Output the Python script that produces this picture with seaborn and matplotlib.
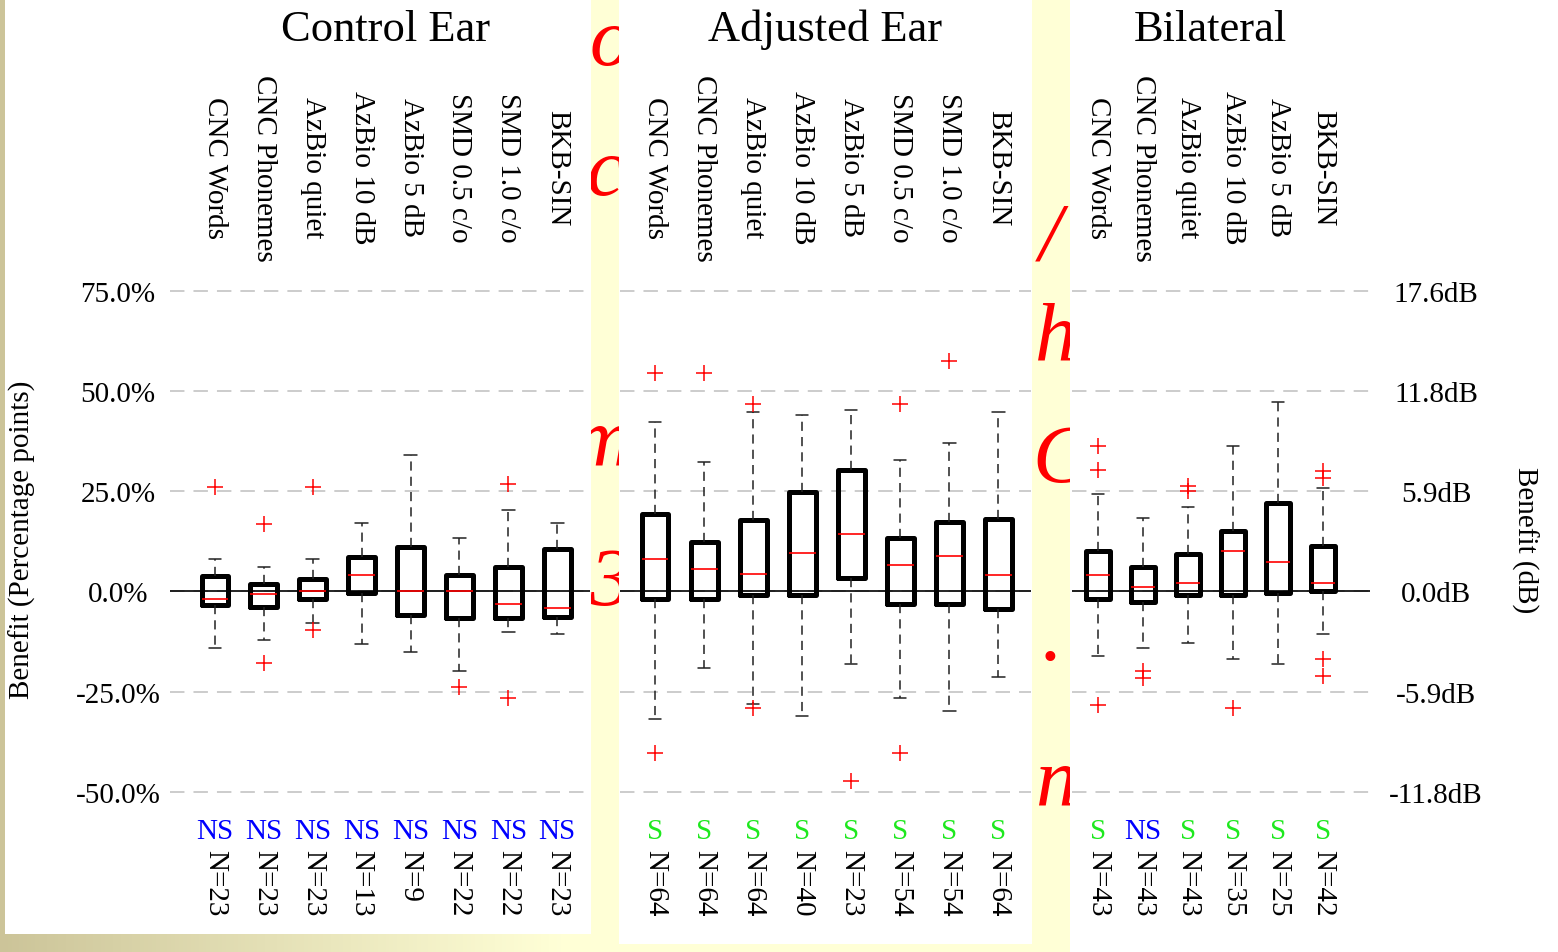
import numpy as np
import matplotlib
matplotlib.use("Agg")
import matplotlib.pyplot as plt
from matplotlib.patches import Rectangle
import seaborn as sns

# ---------------- data ----------------
control_cats = ["CNC Words", "CNC Phonemes", "AzBio quiet", "AzBio 10 dB",
                "AzBio 5 dB", "SMD 0.5 c/o", "SMD 1.0 c/o", "BKB-SIN"]
control_q1 = [-3.3, -3.9, -2.0, -0.3, -5.8, -6.5, -6.5, -6.3]
control_med = [-1.8, -0.7, 0.0, 4.1, 0.0, 0.0, -3.1, -4.2]
control_q3 = [3.9, 1.9, 3.2, 8.6, 11.1, 4.0, 6.2, 10.5]
control_wlo = [-14.0, -12.1, -7.8, -13.0, -15.1, -19.9, -10.0, -10.6]
control_whi = [8.1, 6.0, 8.1, 17.1, 34.0, 13.3, 20.2, 17.1]
control_fliers = [[26.1], [16.8, -17.9], [26.1, -9.7], [], [], [-23.8], [26.9, -26.5], []]
control_n = [23, 23, 23, 13, 9, 22, 22, 23]
control_sig = ["NS", "NS", "NS", "NS", "NS", "NS", "NS", "NS"]

adjusted_cats = ["CNC Words", "CNC Phonemes", "AzBio quiet", "AzBio 10 dB",
                 "AzBio 5 dB", "SMD 0.5 c/o", "SMD 1.0 c/o", "BKB-SIN"]
adjusted_q1 = [-1.8, -1.8, -0.8, -0.9, 3.3, -3.1, -3.1, -4.4]
adjusted_med = [8.2, 5.7, 4.4, 9.6, 14.2, 6.6, 8.8, 4.1]
adjusted_q3 = [19.3, 12.3, 17.8, 24.9, 30.2, 13.3, 17.4, 18.1]
adjusted_wlo = [-31.9, -19.0, -28.0, -31.1, -18.1, -26.6, -29.8, -21.2]
adjusted_whi = [42.2, 32.3, 44.6, 44.0, 45.1, 32.8, 37.0, 44.8]
adjusted_fliers = [[54.4, -40.2], [54.4], [46.6, -29.0], [], [-47.3], [46.8, -40.2], [57.5], []]
adjusted_n = [64, 64, 64, 40, 23, 54, 54, 64]
adjusted_sig = ["S", "S", "S", "S", "S", "S", "S", "S"]

bilateral_cats = ["CNC Words", "CNC Phonemes", "AzBio quiet", "AzBio 10 dB",
                  "AzBio 5 dB", "BKB-SIN"]
bilateral_q1 = [-1.8, -2.7, -0.8, -0.9, -0.3, 0.1]
bilateral_med = [4.2, 1.0, 2.2, 10.0, 7.3, 2.2]
bilateral_q3 = [10.0, 6.1, 9.3, 15.1, 22.0, 11.3]
bilateral_wlo = [-16.0, -14.2, -12.9, -16.8, -18.0, -10.5]
bilateral_whi = [24.2, 18.2, 21.1, 36.3, 47.2, 25.7]
bilateral_fliers = [[36.2, 30.2, -28.2], [-19.7, -21.6], [26.3, 25.1], [-29.0], [],
                    [30.0, 28.3, -16.8, -21.1]]
bilateral_n = [43, 43, 43, 35, 25, 42]
bilateral_sig = ["S", "NS", "S", "S", "S", "S"]

panel_titles = ["Control Ear", "Adjusted Ear", "Bilateral"]
y_ticks = [-50, -25, 0, 25, 50, 75]
pct_labels = ["-50.0%", "-25.0%", "0.0%", "25.0%", "50.0%", "75.0%"]
db_labels = ["-11.8dB", "-5.9dB", "0.0dB", "5.9dB", "11.8dB", "17.6dB"]

# ---------------- style ----------------
sns.set_theme(style="white")
plt.rcParams["font.family"] = ["Liberation Serif", "DejaVu Serif"]
plt.rcParams["text.color"] = "black"
plt.rcParams["xtick.color"] = "black"
plt.rcParams["ytick.color"] = "black"
plt.rcParams["axes.labelcolor"] = "black"

W, H = 1558, 953
fig = plt.figure(figsize=(W / 100, H / 100), dpi=100)
fig.patch.set_facecolor("#FFFFD6")

# background (slide) axes
bg = fig.add_axes([0, 0, 1, 1], zorder=-10)
bg.set_xlim(0, W)
bg.set_ylim(H, 0)
bg.axis("off")
xs = np.linspace(0, W, 400)
t = np.clip(xs / 560.0, 0, 1)[None, :, None]
khaki = np.array([0.80, 0.77, 0.60])
yell = np.array([1.0, 1.0, 0.84])
grad = khaki * (1 - t) + yell * t
grad = np.repeat(grad, 2, axis=0)
bg.imshow(grad, extent=[0, W, H, 0], aspect="auto", zorder=0)
red_bits = [("o", 610, 45), ("c", 605, 175), ("m", 602, 445), ("3", 610, 585),
            ("/", 1050, 240), ("h", 1056, 340), ("C", 1060, 462),
            (".", 1052, 640), ("n", 1056, 785)]
for s, x, y in red_bits:
    bg.text(x, y, s, color="red", fontsize=60, style="italic",
            ha="center", va="center", zorder=1)
for (x0, y0, x1, y1) in [(5, 0, 591, 935), (619, 0, 1032, 945), (1070, 0, W, H)]:
    bg.add_patch(Rectangle((x0, y0), x1 - x0, y1 - y0, facecolor="white",
                           edgecolor="none", zorder=2))

AX_TOP, AX_BOT = 286, 798
PXU = 4.012
ylim = (-50 - (AX_BOT - 793.1) / PXU, 75 + (291.5 - AX_TOP) / PXU)


def px_axes(x0, x1):
    return fig.add_axes([x0 / W, 1 - AX_BOT / H, (x1 - x0) / W, (AX_BOT - AX_TOP) / H])


panels = [
    dict(x0=170, x1=590, xlim=(-0.92, 7.67), cats=control_cats, q1=control_q1,
         med=control_med, q3=control_q3, wlo=control_wlo, whi=control_whi,
         fl=control_fliers, n=control_n, sig=control_sig, tx=0.514),
    dict(x0=620, x1=1031, xlim=(-0.714, 7.67), cats=adjusted_cats, q1=adjusted_q1,
         med=adjusted_med, q3=adjusted_q3, wlo=adjusted_wlo, whi=adjusted_whi,
         fl=adjusted_fliers, n=adjusted_n, sig=adjusted_sig, tx=0.50),
    dict(x0=1072, x1=1370, xlim=(-0.578, 6.044), cats=bilateral_cats, q1=bilateral_q1,
         med=bilateral_med, q3=bilateral_q3, wlo=bilateral_wlo, whi=bilateral_whi,
         fl=bilateral_fliers, n=bilateral_n, sig=bilateral_sig, tx=0.463),
]

FS = 21
axes = []
for k, p in enumerate(panels):
    ax = px_axes(p["x0"], p["x1"])
    ax.set_facecolor("none")
    stats = []
    for i in range(len(p["cats"])):
        stats.append(dict(med=p["med"][i], q1=p["q1"][i], q3=p["q3"][i],
                          whislo=p["wlo"][i], whishi=p["whi"][i],
                          fliers=p["fl"][i], label=p["cats"][i]))
    ax.axhline(0, color="black", lw=1.2, zorder=1)
    ax.bxp(stats, positions=list(range(len(stats))), widths=0.55, showfliers=True,
           capwidths=0.26, manage_ticks=False,
           boxprops=dict(color="black", linewidth=3.6),
           whiskerprops=dict(color="#222222", linewidth=1.1, linestyle=(0, (6, 4))),
           capprops=dict(color="#222222", linewidth=1.1),
           medianprops=dict(color="red", linewidth=1.2),
           flierprops=dict(marker="+", markeredgecolor="red", markersize=11,
                           markeredgewidth=1.1, linestyle="none"))
    ax.set_xlim(*p["xlim"])
    ax.set_ylim(*ylim)
    ax.set_yticks(y_ticks)
    ax.grid(axis="y", color="#C8C8C8", linestyle=(0, (8, 5)), linewidth=1.3, zorder=0)
    ax.set_axisbelow(True)
    for sp in ax.spines.values():
        sp.set_visible(False)
    if k == 0:
        ax.set_yticklabels(pct_labels, ha="center", fontsize=FS)
        ax.tick_params(axis="y", length=0, pad=37.5)
    else:
        ax.tick_params(axis="y", length=0, labelleft=False)
    ax.set_xticks(list(range(len(p["cats"]))))
    ax.set_xticklabels(p["cats"], rotation=270, ha="center", va="center", fontsize=FS)
    ax.xaxis.set_ticks_position("top")
    ax.tick_params(axis="x", length=0, pad=85)
    xt = ax.get_xaxis_transform()
    for i, (s, n) in enumerate(zip(p["sig"], p["n"])):
        ax.text(i, -34 / (AX_BOT - AX_TOP), s, transform=xt, ha="center", va="center",
                fontsize=FS, color="#0000FF" if s == "NS" else "#1EE81E")
        ax.text(i, -52 / (AX_BOT - AX_TOP), f"N={n}", transform=xt, ha="center",
                va="top", rotation=270, fontsize=FS, color="black")
    ax.text(p["tx"], 1 + (AX_TOP - 30) / (AX_BOT - AX_TOP), panel_titles[k],
            transform=ax.transAxes, ha="center", va="center", fontsize=32)
    axes.append(ax)

axr = axes[2].twinx()
axr.set_ylim(*ylim)
axr.set_yticks(y_ticks)
axr.set_yticklabels(db_labels, ha="center", fontsize=FS)
axr.tick_params(axis="y", length=0, pad=47.5)
for sp in axr.spines.values():
    sp.set_visible(False)

fig.text(22 / W, 1 - 540 / H, "Benefit (Percentage points)", rotation=90,
         ha="center", va="center", fontsize=FS)
fig.text(1525 / W, 1 - 540 / H, "Benefit (dB)", rotation=270,
         ha="center", va="center", fontsize=FS)

fig.savefig("out.png", dpi=100)
